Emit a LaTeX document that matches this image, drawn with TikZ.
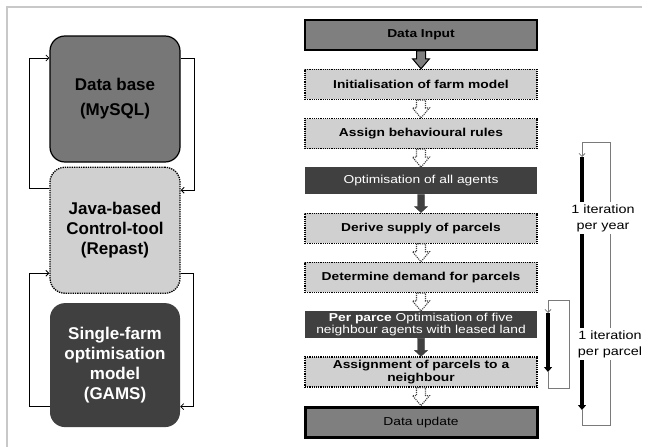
\documentclass[tikz,border=0pt]{standalone}
\usepackage{fontspec}
\setmainfont{Liberation Sans}
\newfontfamily\widesans[FakeStretch=1.2]{Liberation Sans}
\usepackage{xcolor}
\usepackage{tikz}
\usetikzlibrary{arrows.meta,positioning,calc}

\definecolor{dbgray}{HTML}{777777}
\definecolor{lightbox}{HTML}{D0D0D0}
\definecolor{darkbox}{HTML}{404040}
\definecolor{midbox}{HTML}{7F7F7F}
\definecolor{framegray}{HTML}{C8C8C8}
\definecolor{loopgray}{HTML}{7A7A7A}

\begin{document}
\begin{tikzpicture}[x=1pt, y=-1pt,
        node distance=18pt,
        tool/.style={rectangle, rounded corners=15pt, minimum width=130pt,
                     minimum height=126pt, align=center,
                     font=\fontsize{17}{20}\selectfont\bfseries},
        stage/.style={rectangle, minimum width=232pt, minimum height=30pt,
                      inner sep=1pt, align=center,
                      font=\widesans\fontsize{11.5}{13}\selectfont},
        lightstage/.style={stage, fill=lightbox, draw, densely dotted, line width=1.2pt},
        darkstage/.style={stage, fill=darkbox, text=white, minimum height=27pt},
        midstage/.style={stage, fill=midbox, draw, line width=#1},
        blockarrow/.style n args={3}{to path={let \p1=(\tikztostart), \p2=(\tikztotarget) in
            (\x1-#1,\y1) -- (\x1-#1,\y2+#3) -- (\x1-#2,\y2+#3) -- (\x1,\y2)
            -- (\x1+#2,\y2+#3) -- (\x1+#1,\y2+#3) -- (\x1+#1,\y1) -- cycle}},
        openarrow/.style={blockarrow={4.5pt}{8.5pt}{10pt}, draw, line width=1pt, fill=midbox},
        dotarrow/.style={blockarrow={4.5pt}{8.5pt}{10pt}, draw=darkbox, densely dotted, line width=1.1pt, fill=white},
        darkarrow/.style={blockarrow={3.5pt}{6.5pt}{6pt}, draw=darkbox, fill=darkbox},
        looparrow/.style={draw, line width=0.8pt, -{Straight Barb[length=3pt, width=6pt]}},
        itline/.style={line width=4pt, -{Triangle[length=5pt, width=8pt]}},
        backline/.style={draw=loopgray, line width=0.8pt, -{Straight Barb[length=3pt, width=6pt]}},
        itlabel/.style={fill=white, align=center, inner sep=2pt,
                        font=\widesans\fontsize{12}{16}\selectfont}
    ]
        \useasboundingbox (0,0) rectangle (648,447);
        \draw[framegray, line width=2pt] (7,447) -- (7,7) -- (642,7);

        \node[tool, fill=dbgray, draw, line width=1.2pt] (db) at (115,99) {Data base\\[5pt](MySQL)};
        \node[tool, fill=lightbox, draw, densely dotted, line width=1.3pt, below=4pt of db] (java) {Java-based\\Control-tool\\(Repast)};
        \node[tool, fill=darkbox, text=white, minimum height=124pt, below=9pt of java] (gams) {Single-farm\\optimisation\\model\\(GAMS)};

        \draw[looparrow] ([yshift=42pt]java.west) -- ++(-20,0) |- ([yshift=41pt]db.west);
        \draw[looparrow] ([yshift=41pt]db.east) -- ++(14,0) |- ([yshift=40pt]java.east);
        \draw[looparrow] ([yshift=-41.5pt]gams.west) -- ++(-20,0) |- ([yshift=-43pt]java.west);
        \draw[looparrow] ([yshift=-43pt]java.east) -- ++(13,0) |- ([yshift=-41.5pt]gams.east);

        \node[midstage=1.5pt] (input) at (421,35) {\bfseries Data Input};
        \node[lightstage, below=of input] (init) {\bfseries Initialisation of farm model};
        \node[lightstage, below=of init] (rules) {\bfseries Assign behavioural rules};
        \node[darkstage, below=of rules] (optall) {Optimisation of all agents};
        \node[lightstage, below=of optall] (supply) {\bfseries Derive supply of parcels};
        \node[lightstage, below=of supply] (demand) {\bfseries Determine demand for parcels};
        \node[darkstage, below=of demand, font=\widesans\fontsize{11.5}{12.5}\selectfont] (optfive)
            {{\bfseries Per parce} Optimisation of five\\neighbour agents with leased land};
        \node[lightstage, below=of optfive] (assignnb) {\bfseries Assignment of parcels to a\\\bfseries neighbour};
        \node[midstage=3pt, below=of assignnb] (update) {Data update};

        \draw[openarrow] (input.south) to (init.north);
        \draw[dotarrow] (init.south) to (rules.north);
        \draw[dotarrow] (rules.south) to (optall.north);
        \draw[darkarrow] (optall.south) to (supply.north);
        \draw[dotarrow] (supply.south) to (demand.north);
        \draw[dotarrow] (demand.south) to (optfive.north);
        \draw[darkarrow] (optfive.south) to (assignnb.north);
        \draw[dotarrow] (assignnb.south) to (update.north);

        \coordinate (yeartop) at (582,157);
        \coordinate (yearbot) at (582,410);
        \coordinate (parceltop) at (548,313);
        \coordinate (parcelbot) at (548,372);

        \draw[itline] (yeartop) -- (yearbot);
        \draw[backline] (yearbot) -- ++(0,15) -- ++(28,0) -- ++(0,-283) -- ++(-28,0) -- (yeartop);
        \draw[itline, line width=3.5pt] (parceltop) -- (parcelbot);
        \draw[backline] (parcelbot) -- ++(0,16) -- ++(21,0) -- ++(0,-88) -- ++(-21,0) -- (parceltop);

        \node[itlabel] (yearlbl) at (603,218) {1 iteration\\per year};
        \node[itlabel] (parcellbl) at (610,344) {1 iteration\\per parcel};
    \end{tikzpicture}
\end{document}
